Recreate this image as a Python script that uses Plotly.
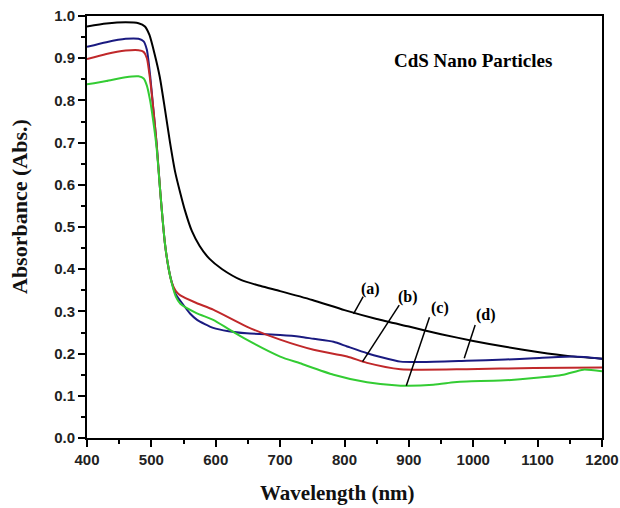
import plotly.graph_objects as go

# Wavelength (nm) / absorbance data
wl_a = [400, 430, 460, 480, 490, 497, 505, 513, 521, 529, 537, 545, 552, 563, 575, 590, 610, 640, 670, 700, 750, 800, 850, 900, 950, 1000, 1050, 1100, 1150, 1200]
abs_a = [0.975, 0.982, 0.985, 0.983, 0.975, 0.955, 0.91, 0.856, 0.78, 0.70, 0.63, 0.58, 0.54, 0.49, 0.455, 0.425, 0.400, 0.374, 0.360, 0.348, 0.327, 0.303, 0.282, 0.264, 0.246, 0.230, 0.216, 0.204, 0.194, 0.188]

wl_b = [400, 430, 460, 480, 488, 493, 498, 503, 508, 514, 521, 527, 532, 538, 545, 570, 596, 648, 700, 752, 804, 835, 887, 990, 1094, 1200]
abs_b = [0.898, 0.910, 0.918, 0.919, 0.915, 0.90, 0.85, 0.78, 0.70, 0.58, 0.462, 0.40, 0.367, 0.348, 0.338, 0.320, 0.304, 0.264, 0.233, 0.209, 0.193, 0.178, 0.163, 0.163, 0.166, 0.167]

wl_c = [400, 430, 460, 480, 488, 493, 498, 503, 508, 514, 521, 527, 532, 538, 545, 570, 596, 620, 648, 700, 731, 783, 835, 887, 938, 970, 990, 1042, 1094, 1140, 1171, 1200]
abs_c = [0.838, 0.846, 0.855, 0.857, 0.852, 0.835, 0.80, 0.75, 0.69, 0.58, 0.462, 0.40, 0.365, 0.335, 0.318, 0.296, 0.280, 0.258, 0.233, 0.193, 0.177, 0.150, 0.132, 0.124, 0.126, 0.132, 0.134, 0.136, 0.142, 0.150, 0.162, 0.158]

wl_d = [400, 430, 460, 480, 488, 493, 498, 503, 508, 514, 521, 527, 532, 538, 545, 560, 571, 596, 620, 648, 700, 731, 752, 783, 804, 835, 856, 887, 920, 990, 1050, 1094, 1156, 1200]
abs_d = [0.927, 0.938, 0.946, 0.946, 0.94, 0.92, 0.86, 0.78, 0.70, 0.58, 0.462, 0.40, 0.367, 0.340, 0.325, 0.295, 0.280, 0.261, 0.253, 0.248, 0.244, 0.240, 0.235, 0.228, 0.217, 0.201, 0.192, 0.181, 0.180, 0.183, 0.186, 0.189, 0.193, 0.188]

series = [
    ("(a)", wl_a, abs_a, "#000000"),
    ("(b)", wl_b, abs_b, "#c0282a"),
    ("(c)", wl_c, abs_c, "#33cc33"),
    ("(d)", wl_d, abs_d, "#1a1a80"),
]

x_ticks = [400, 500, 600, 700, 800, 900, 1000, 1100, 1200]
y_ticks = [0, 0.1, 0.2, 0.3, 0.4, 0.5, 0.6, 0.7, 0.8, 0.9, 1.0]

# label text position, leader line start, leader line end (data coords)
labels = ["(a)", "(b)", "(c)", "(d)"]
label_x = [840, 898, 948, 1020]
label_y = [0.353, 0.335, 0.308, 0.292]
lead_x0 = [829, 885, 932, 1003]
lead_y0 = [0.335, 0.315, 0.286, 0.268]
lead_x1 = [814, 828, 896, 986]
lead_y1 = [0.294, 0.181, 0.124, 0.189]

fig = go.Figure()
for name, x, y, c in [series[0], series[3], series[1], series[2]]:
    fig.add_trace(go.Scatter(x=x, y=y, mode="lines", name=name,
                             line=dict(color=c, width=2, shape="spline", smoothing=0.6),
                             showlegend=False))

for i in range(4):
    fig.add_shape(type="line", xref="x", yref="y",
                  x0=lead_x0[i], y0=lead_y0[i], x1=lead_x1[i], y1=lead_y1[i],
                  line=dict(color="black", width=1.5))
    fig.add_annotation(x=label_x[i], y=label_y[i], xref="x", yref="y", text="<b>%s</b>" % labels[i],
                       showarrow=False, font=dict(family="Liberation Serif", size=16, color="black"))

fig.add_annotation(x=1000, y=0.895, xref="x", yref="y", text="<b>CdS Nano Particles</b>",
                   showarrow=False, font=dict(family="Liberation Serif", size=19, color="black"))

# axis titles
fig.add_annotation(x=0.5, y=-0.131, xref="x domain", yref="y domain", xshift=-7,
                   xanchor="center", yanchor="middle",
                   text="<b>Wavelength (nm)</b>", showarrow=False,
                   font=dict(family="Liberation Serif", size=21, color="#111"))
fig.add_annotation(x=0, y=0.5, xref="paper", yref="y domain", xshift=-68, yshift=20, textangle=-90,
                   xanchor="center", yanchor="middle",
                   text="<b>Absorbance (Abs.)</b>", showarrow=False,
                   font=dict(family="Liberation Serif", size=22, color="#111"))

axis_common = dict(
    showline=True, linecolor="black", linewidth=2, mirror=True,
    ticks="outside", ticklen=7, tickwidth=2, tickcolor="black",
    showgrid=False, zeroline=False, automargin=False,
    tickfont=dict(family="Liberation Sans", size=15, color="#222", weight="bold"),
)

fig.update_xaxes(range=[400, 1200], tickmode="array", tickvals=x_ticks,
                 minor=dict(ticks="outside", ticklen=4, tickwidth=2, tickcolor="black", dtick=50, tick0=400),
                 **axis_common)
fig.update_yaxes(range=[0, 1.0], tickmode="array", tickvals=y_ticks, tickformat=".1f",
                 minor=dict(ticks="outside", ticklen=4, tickwidth=2, tickcolor="black", dtick=0.05, tick0=0),
                 **axis_common)

fig.update_layout(width=620, height=508, margin=dict(l=87, r=18, t=16, b=70),
                  paper_bgcolor="white", plot_bgcolor="white")

fig.write_html("out.html")
